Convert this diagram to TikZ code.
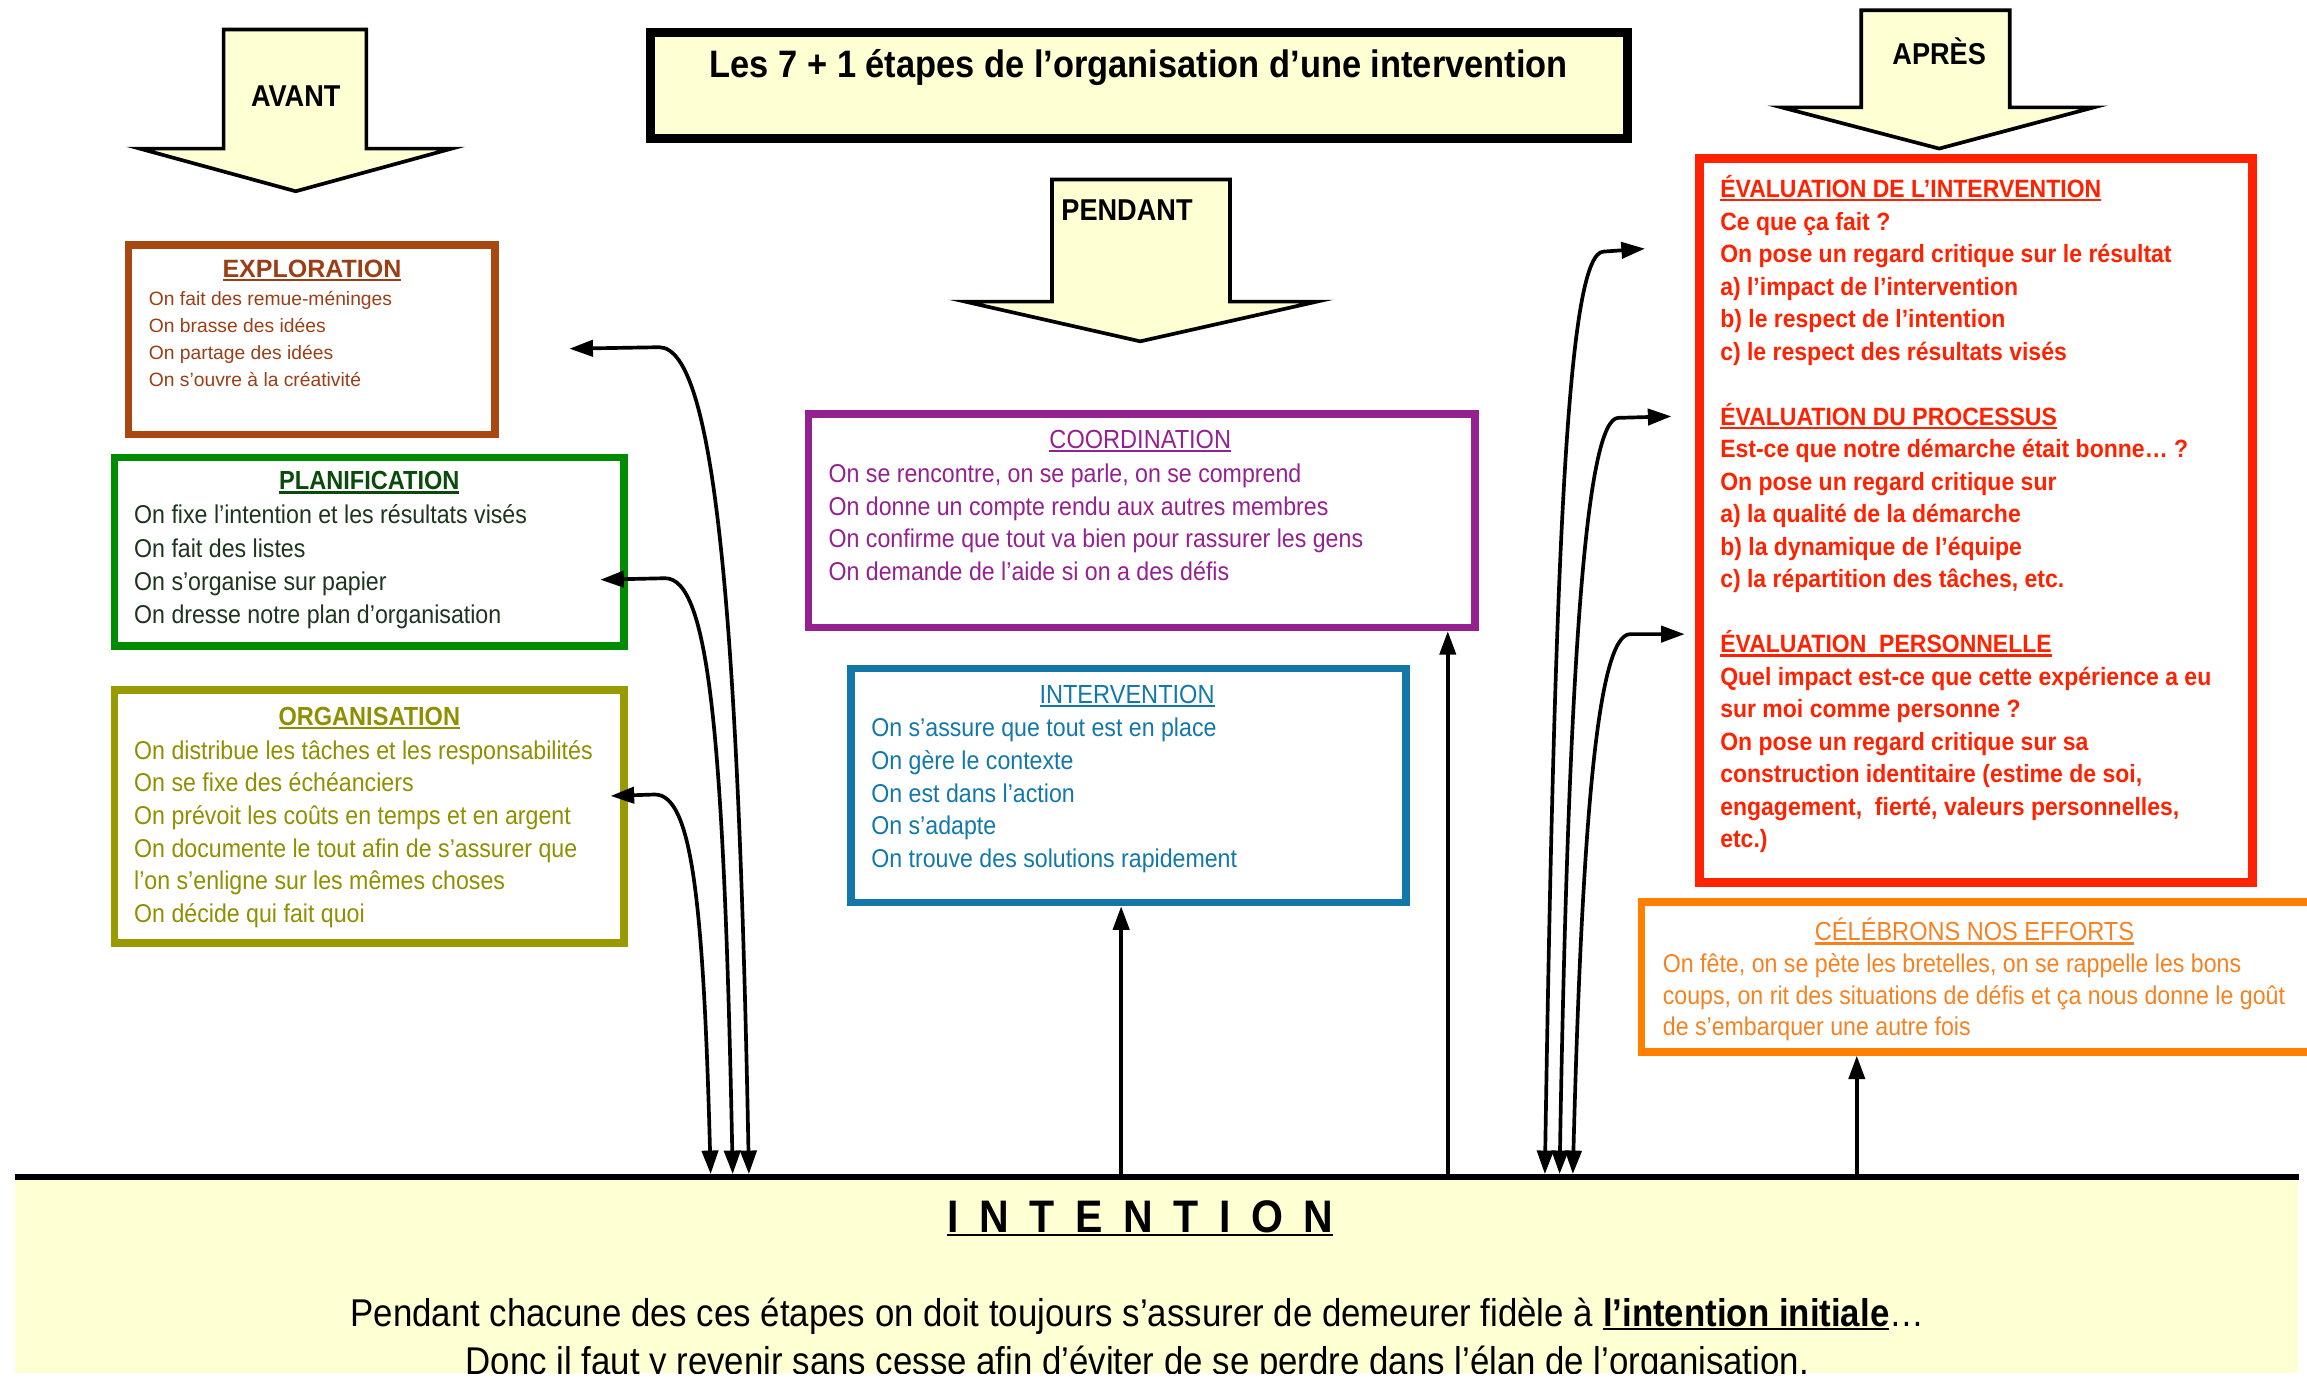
\documentclass[tikz,border=0pt]{standalone}
\usepackage{fontspec}
\setmainfont{Liberation Sans}[FakeStretch=0.90]
\newfontfamily\widefont{Liberation Sans}
\newfontfamily\evalfont{Liberation Sans}[FakeStretch=0.92]
\usetikzlibrary{arrows.meta,calc}

\definecolor{cream}{HTML}{FFFFD4}
\definecolor{explo}{HTML}{A84810}
\definecolor{explotext}{HTML}{9A3E16}
\definecolor{plani}{HTML}{008C00}
\definecolor{planititle}{HTML}{0A4A0A}
\definecolor{planitext}{HTML}{1C351C}
\definecolor{orga}{HTML}{999900}
\definecolor{orgatext}{HTML}{8F8F00}
\definecolor{coord}{HTML}{952090}
\definecolor{interv}{HTML}{1278AA}
\definecolor{evalred}{HTML}{FF2200}
\definecolor{fete}{HTML}{FF7F00}
\definecolor{fetetext}{HTML}{F58220}

% underline with a thicker rule
\newcommand{\ulx}[1]{\setbox0=\hbox{#1}\leavevmode\rlap{\raisebox{-2.6pt}{\rule{\wd0}{1.6pt}}}\box0}

\tikzset{
  stage/.style={draw=#1, line width=5pt, inner sep=0pt},
  stagetitle/.style={text=#1, inner sep=0pt, font=\fontsize{17.8}{17.8}\selectfont\bfseries},
  stagetext/.style={text=#1, anchor=north west, align=left, inner sep=0pt,
    font=\fontsize{17.5}{22.2}\selectfont},
  phase/.style={draw=black, line width=2.5pt, fill=cream, line join=miter},
  phaselabel/.style={inner sep=0pt, font=\fontsize{20.5}{20.5}\selectfont\bfseries},
  backlink/.style={line width=2.5pt, <->},
  uplink/.style={line width=2.5pt, ->},
}

\begin{document}
\begin{tikzpicture}[x=1pt,y=-1pt,>={Triangle[length=16pt,width=11pt]}]
  \useasboundingbox (0,0) rectangle (1568,941);

  % Intention band
  \node[fill=cream, anchor=north west, inner sep=0pt, minimum width=1552,
    minimum height=133] (band) at (10,800) {};
  \draw[line width=4pt] (band.north west) -- (band.north east);
  \node[inner sep=0pt, font=\fontsize{31}{31}\selectfont\bfseries] (intent) at (775,828)
    {\def\g{\hspace{14pt}}\ulx{I\g N\g T\g E\g N\g T\g I\g O\g N}};
  \begin{scope}
    \clip (band.north west) rectangle (band.south east);
    \node[inner sep=0pt, font=\fontsize{26.3}{33}\selectfont, align=center] (rule) at (773,911)
      {Pendant chacune des ces étapes on doit toujours s’assurer de demeurer fidèle à
       {\bfseries\ulx{l’intention initiale}}…\\
       Donc il faut y revenir sans cesse afin d’éviter de se perdre dans l’élan de l’organisation.};
  \end{scope}

  % Title
  \node[draw=black, line width=6pt, fill=cream, minimum width=664, minimum height=72]
    (titlebox) at (774,58) {};
  \node[inner sep=0pt, font=\fontsize{26}{26}\selectfont\bfseries] (title) at (774,46)
    {Les 7 + 1 étapes de l’organisation d’une intervention};

  % Phases
  \draw[phase] (152,20) -- (249,20) -- (249,101) -- (307,101) -- (201,130)
    -- (95,101) -- (152,101) -- cycle;
  \node[phaselabel] (avant) at (201,65) {AVANT};
  \draw[phase] (715,122) -- (836,122) -- (836,205) -- (895,205) -- (775,232)
    -- (656,205) -- (715,205) -- cycle;
  \node[phaselabel] (pendant) at (766,143) {PENDANT};
  \draw[phase] (1265,7) -- (1366,7) -- (1366,73) -- (1423,73) -- (1318,101)
    -- (1211,73) -- (1265,73) -- cycle;
  \node[phaselabel] (apres) at (1318,35) {APRÈS};

  % Before
  \node[stage=explo, minimum width=249, minimum height=129] (expl) at (212,231) {};
  \node[stagetitle=explotext, font=\widefont\fontsize{17}{17}\selectfont\bfseries]
    (explT) at (212,184) {\ulx{EXPLORATION}};
  \node[stagetext=explotext, font=\widefont\fontsize{13.1}{18.3}\selectfont] (explL) at (101,198)
    {On fait des remue-méninges\\On brasse des idées\\On partage des idées\\On s’ouvre à la créativité};

  \node[stage=plani, minimum width=346, minimum height=128] (plan) at (251,375) {};
  \node[stagetitle=planititle] (planT) at (251,328) {\ulx{PLANIFICATION}};
  \node[stagetext=planitext, font=\fontsize{17.5}{22.6}\selectfont] (planL) at (91,343)
    {On fixe l’intention et les résultats visés\\On fait des listes\\On s’organise sur papier\\On dresse notre plan d’organisation};

  \node[stage=orga, minimum width=346, minimum height=172] (orga) at (251,555) {};
  \node[stagetitle=orgatext] (orgaT) at (251,488) {\ulx{ORGANISATION}};
  \node[stagetext=orgatext] (orgaL) at (91,503)
    {On distribue les tâches et les responsabilités\\On se fixe des échéanciers\\On prévoit les coûts en temps et en argent\\On documente le tout afin de s’assurer que\\l’on s’enligne sur les mêmes choses\\On décide qui fait quoi};

  % During
  \node[stage=coord, minimum width=453, minimum height=145] (coord) at (776,354) {};
  \node[stagetitle=coord, font=\fontsize{17.8}{17.8}\selectfont] (coordT) at (775,300) {\ulx{COORDINATION}};
  \node[stagetext=coord] (coordL) at (563,315)
    {On se rencontre, on se parle, on se comprend\\On donne un compte rendu aux autres membres\\On confirme que tout va bien pour rassurer les gens\\On demande de l’aide si on a des défis};

  \node[stage=interv, minimum width=377, minimum height=159] (intv) at (767,534) {};
  \node[stagetitle=interv, font=\fontsize{17.8}{17.8}\selectfont] (intvT) at (766,473) {\ulx{INTERVENTION}};
  \node[stagetext=interv] (intvL) at (592,488)
    {On s’assure que tout est en place\\On gère le contexte\\On est dans l’action\\On s’adapte\\On trouve des solutions rapidement};

  % After
  \node[stage=evalred, line width=6pt, minimum width=376, minimum height=492] (eval) at (1343,354) {};
  \node[stagetext=evalred, font=\evalfont\fontsize{17}{22.1}\selectfont\bfseries] (evalL) at (1169,119)
    {\ulx{ÉVALUATION DE L’INTERVENTION}\\Ce que ça fait ?\\On pose un regard critique sur le résultat\\a) l’impact de l’intervention\\b) le respect de l’intention\\c) le respect des résultats visés\\[22.1pt]
     \ulx{ÉVALUATION DU PROCESSUS}\\Est-ce que notre démarche était bonne… ?\\On pose un regard critique sur\\a) la qualité de la démarche\\b) la dynamique de l’équipe\\c) la répartition des tâches, etc.\\[22.1pt]
     \ulx{ÉVALUATION\ \ PERSONNELLE}\\Quel impact est-ce que cette expérience a eu\\sur moi comme personne ?\\On pose un regard critique sur sa\\construction identitaire (estime de soi,\\engagement,\ \ fierté, valeurs personnelles,\\etc.)};

  \node[stage=fete, minimum width=457, minimum height=102] (fete) at (1344,664) {};
  \node[stagetitle=fetetext, font=\fontsize{17.8}{17.8}\selectfont] (feteT) at (1342,633) {\ulx{CÉLÉBRONS NOS EFFORTS}};
  \node[stagetext=fetetext, font=\fontsize{17.5}{21.5}\selectfont] (feteL) at (1130,648)
    {On fête, on se pète les bretelles, on se rappelle les bons\\coups, on rit des situations de défis et ça nous donne le goût\\de s’embarquer une autre fois};

  % Links back to the intention
  \coordinate (l1) at (509,798);
  \coordinate (l2) at (498,798);
  \coordinate (l3) at (483,798);
  \coordinate (r1) at (1050,798);
  \coordinate (r2) at (1060,798);
  \coordinate (r3) at (1069,798);
  \coordinate (explIn) at (387,237);
  \coordinate (planIn) at (408,394);
  \coordinate (orgaIn) at (415,541);
  \coordinate (evalInA) at (1118,169);
  \coordinate (evalInB) at (1136,283);
  \coordinate (evalInC) at (1145,431);

  \draw[backlink] (l1) .. controls (502,430) and (487,236) .. (448,236) -- (explIn);
  \draw[backlink] (l2) .. controls (492,500) and (482,393) .. (452,393) -- (planIn);
  \draw[backlink] (l3) .. controls (478,610) and (470,540) .. (445,540) -- (orgaIn);
  \draw[backlink] (r1) .. controls (1057,360) and (1066,171) .. (1090,171) -- (evalInA);
  \draw[backlink] (r2) .. controls (1066,450) and (1078,284) .. (1100,284) -- (evalInB);
  \draw[backlink] (r3) .. controls (1075,570) and (1085,431) .. (1108,431) -- (evalInC);

  \coordinate (f1) at (762,800);
  \coordinate (f2) at (984,800);
  \coordinate (f3) at (1262,800);
  \draw[uplink] (f1) -- (f1 |- intv.south);
  \draw[uplink] (f2) -- (f2 |- coord.south);
  \draw[uplink] (f3) -- (f3 |- fete.south);
\end{tikzpicture}
\end{document}
